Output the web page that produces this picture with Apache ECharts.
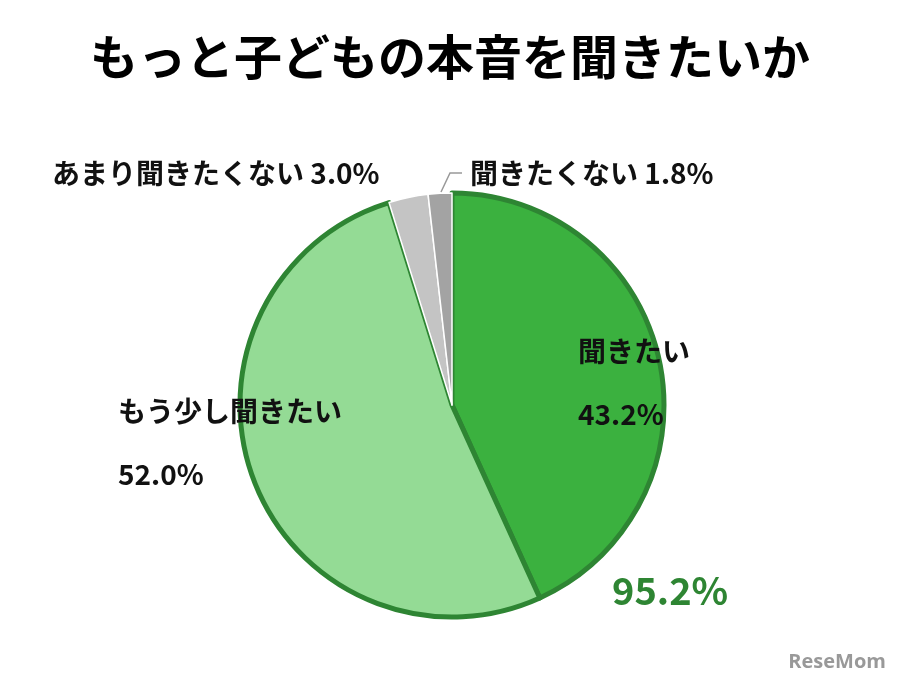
<!DOCTYPE html>
<html><head><meta charset="utf-8">
<script src="https://cdn.jsdelivr.net/npm/echarts@6/dist/echarts.min.js"></script>
<style>html,body{margin:0;background:#fff}#c{width:900px;height:688px}</style>
</head><body><div id="c"></div>
<script>
var names = ['聞きたい', 'もう少し聞きたい', 'あまり聞きたくない', '聞きたくない'];
var values = [43.2, 52.0, 3.0, 1.8];
var colors = ['#3bb13f', '#94db95', '#c4c4c4', '#a3a3a3'];
var borders = ['#2e8533', '#2e8533', '#ffffff', '#ffffff'];
var total = '95.2%';

var font = '"Noto Sans CJK JP", sans-serif';
var chart = echarts.init(document.getElementById('c'));
function txt(x, y, s, size, color) {
  return {type: 'text', z: 100, left: x, top: y, style: {text: s, font: 'bold ' + size + 'px ' + font, fill: color || '#111', lineHeight: size * 2.25}};
}
chart.setOption({
  title: {text: 'もっと子どもの本音を聞きたいか', left: 'center', top: 28,
    textStyle: {fontSize: 48, fontWeight: 'bold', fontFamily: font, color: '#000'}},
  series: [{
    type: 'pie', center: [452, 405], radius: [0, 212], startAngle: 90, clockwise: true,
    label: {show: false}, labelLine: {show: false}, silent: true,
    data: names.map(function (n, i) {
      return {name: n, value: values[i], itemStyle: {color: colors[i], borderColor: borders[i], borderWidth: i < 2 ? 5 : 1.5}};
    })
  }],
  graphic: [
    txt(578, 320, names[0] + '\n' + values[0].toFixed(1) + '%', 28),
    txt(118, 380, names[1] + '\n' + values[1].toFixed(1) + '%', 28),
    txt(52, 142, names[2] + ' ' + values[2].toFixed(1) + '%', 28),
    txt(470, 142, names[3] + ' ' + values[3].toFixed(1) + '%', 28),
    txt(612, 548, total, 38, '#2e8533'),
    {type: 'polyline', z: 100, shape: {points: [[441, 192], [450, 173], [462, 173]]}, style: {stroke: '#999', lineWidth: 1.5, fill: null}},
    {type: 'text', z: 100, right: 14, bottom: 16, style: {text: 'ReseMom', font: 'bold 20px "Open Sans", sans-serif', fill: '#999'}}
  ]
});
</script></body></html>
